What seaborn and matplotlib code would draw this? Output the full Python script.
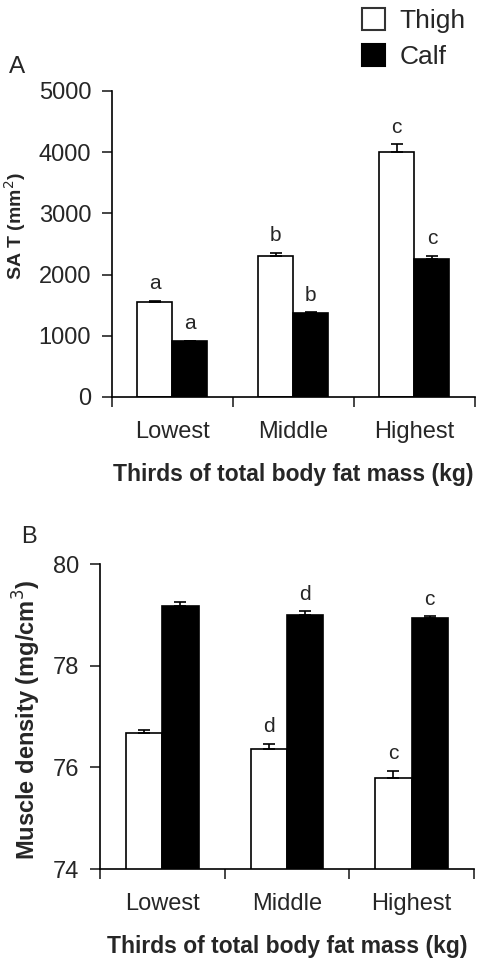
import numpy as np
import pandas as pd
import seaborn as sns
import matplotlib.pyplot as plt
from matplotlib.patches import Patch

thirds = ["Lowest", "Middle", "Highest"]
sites = ["Thigh", "Calf"]

sat_thigh = [1557, 2304, 4003]
sat_calf = [910, 1368, 2255]
sat_thigh_err = [15, 55, 130]
sat_calf_err = [10, 12, 55]
sat_letters_thigh = ["a", "b", "c"]
sat_letters_calf = ["a", "b", "c"]

dens_thigh = [76.67, 76.36, 75.80]
dens_calf = [79.17, 79.00, 78.94]
dens_thigh_err = [0.07, 0.10, 0.13]
dens_calf_err = [0.09, 0.07, 0.03]
dens_letters_thigh = ["", "d", "c"]
dens_letters_calf = ["", "d", "c"]

sns.set_theme(style="ticks")
plt.rcParams['font.family'] = ['Liberation Sans', 'DejaVu Sans']


def make_df(thigh, calf):
    return pd.DataFrame({
        "third": thirds * 2,
        "site": ["Thigh"] * 3 + ["Calf"] * 3,
        "value": list(thigh) + list(calf),
    })


def panel(ax, thigh, calf, terr, cerr, lt, lc, ylim, yticks, ylabel, ylabel_size, letter_off):
    df = make_df(thigh, calf)
    sns.barplot(data=df, x="third", y="value", hue="site", order=thirds,
                hue_order=sites, palette=["white", "black"], edgecolor="black",
                linewidth=1.2, width=0.58, errorbar=None, legend=False, ax=ax)
    # bar centres from the seaborn patches (first 3 thigh, then 3 calf)
    bars = [p for p in ax.patches if p.get_width() > 0]
    vals = list(thigh) + list(calf)
    errs = list(terr) + list(cerr)
    labs = list(lt) + list(lc)
    for p, v, e, t in zip(bars, vals, errs, labs):
        xc = p.get_x() + p.get_width() / 2
        ax.errorbar(xc, v, yerr=[[0], [e]], fmt="none", ecolor="black",
                    elinewidth=1.2, capsize=4, capthick=1.2)
        if t:
            ax.text(xc, v + e + letter_off, t, ha="center", va="bottom", fontsize=15)
    ax.set_ylim(*ylim)
    ax.set_yticks(yticks)
    ax.set_xlim(-0.5, 2.5)
    ax.set_xticks([0, 1, 2])
    ax.set_xticks([-0.5, 0.5, 1.5, 2.5], minor=True)
    ax.tick_params(axis="x", which="major", length=0, labelsize=17, pad=17)
    ax.tick_params(axis="x", which="minor", length=7, width=1.2, direction="out")
    ax.tick_params(axis="y", length=7, width=1.2, labelsize=17, pad=8, direction="out")
    ax.spines[["top", "right"]].set_visible(False)
    ax.spines[["left", "bottom"]].set_linewidth(1.2)
    ax.spines[["left", "bottom"]].set_color("black")
    ax.set_xlabel("Thirds of total body fat mass (kg)", fontsize=16.5,
                  fontweight="bold", labelpad=15)
    ax.set_ylabel(ylabel, fontsize=ylabel_size, fontweight="bold")


fig = plt.figure(figsize=(4.91, 9.67), dpi=100)
ax1 = fig.add_axes([0.228, 0.5895, 0.739, 0.3165])
ax2 = fig.add_axes([0.204, 0.1013, 0.761, 0.3154])

panel(ax1, sat_thigh, sat_calf, sat_thigh_err, sat_calf_err,
      sat_letters_thigh, sat_letters_calf, (0, 5000),
      [0, 1000, 2000, 3000, 4000, 5000], "SA T (mm$^2$)", 14, 120)
panel(ax2, dens_thigh, dens_calf, dens_thigh_err, dens_calf_err,
      dens_letters_thigh, dens_letters_calf, (74, 80),
      [74, 76, 78, 80], "Muscle density (mg/cm$^3$)", 17, 0.15)

ax1.yaxis.set_label_coords(-0.231, 0.56)
ax2.yaxis.set_label_coords(-0.152, 0.49)

fig.text(0.018, 0.931, "A", fontsize=17.5, va="center")
fig.text(0.044, 0.445, "B", fontsize=17, va="center")

handles = [Patch(facecolor="white", edgecolor="#333333", linewidth=1.5, label="Thigh"),
           Patch(facecolor="black", edgecolor="black", linewidth=1.5, label="Calf")]
fig.legend(handles=handles, loc="upper left", bbox_to_anchor=(0.688, 1.016),
           frameon=False, fontsize=19, handlelength=0.9, handleheight=0.9,
           handletextpad=0.55, labelspacing=0.42)

fig.savefig("out.png", dpi=100)
